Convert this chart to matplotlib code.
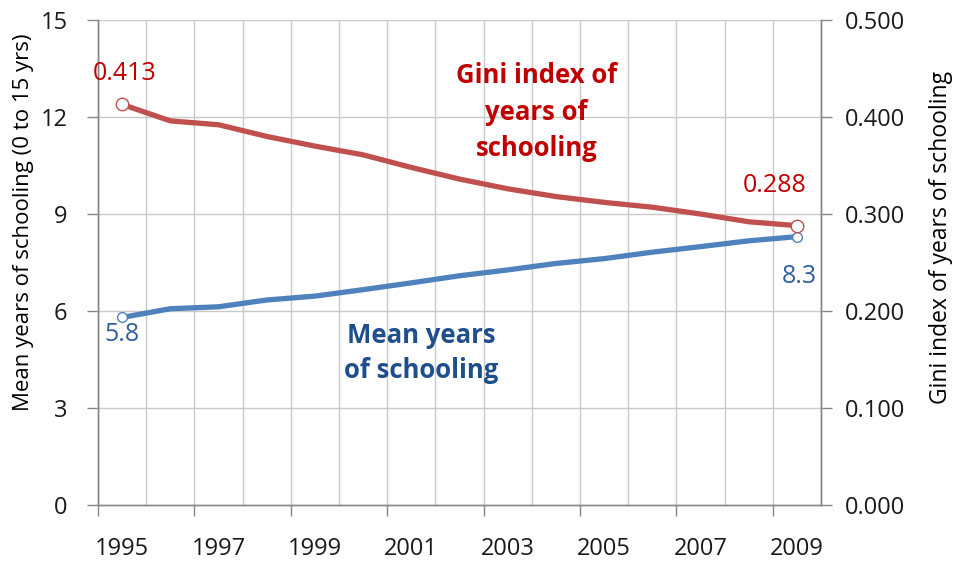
import matplotlib.pyplot as plt
import matplotlib as mpl
import numpy as np

mpl.rcParams["font.family"] = ["Open Sans", "DejaVu Sans"]

# --- data ---
years = list(range(1995, 2010))
mean_years = [5.8, 6.07, 6.13, 6.34, 6.46, 6.66, 6.87, 7.09, 7.27, 7.47,
              7.62, 7.82, 7.99, 8.17, 8.3]
gini = [0.413, 0.396, 0.392, 0.380, 0.370, 0.361, 0.348, 0.336, 0.326,
        0.318, 0.312, 0.307, 0.300, 0.292, 0.288]
left_ticks = [0, 3, 6, 9, 12, 15]
right_ticks = [0.0, 0.1, 0.2, 0.3, 0.4, 0.5]

red = "#C0504D"
blue = "#4F81BD"
red_txt = "#C00000"
blue_txt = "#2F5E9E"
blue_title = "#1F4E8C"
grid_c = "#C9C9C9"
spine_c = "#878787"
txt_c = "#1A1A1A"

fig = plt.figure(figsize=(9.55, 5.61), dpi=100)
ax = fig.add_axes([98 / 955, 56 / 561, 723 / 955, 485 / 561])
ax2 = ax.twinx()

x = np.arange(len(years))
n = len(years)

ax.set_xlim(-0.5, n - 0.5)
ax.set_ylim(0, 15)
ax2.set_ylim(0, 0.5)

# grid: horizontal at left ticks, vertical at every category boundary
for yv in left_ticks[1:]:
    ax.axhline(yv, color=grid_c, lw=1.0, zorder=0)
for b in np.arange(n + 1) - 0.5:
    ax.axvline(b, color=grid_c, lw=1.0, zorder=0)

# lines
ax.plot(x, mean_years, color=blue, lw=3.8, solid_capstyle="round",
        solid_joinstyle="round", zorder=3)
ax2.plot(x, gini, color=red, lw=3.8, solid_capstyle="round",
         solid_joinstyle="round", zorder=3)
ax.plot([x[0], x[-1]], [mean_years[0], mean_years[-1]], "o", ms=7,
        mfc="white", mec=blue, mew=1.0, zorder=4)
ax2.plot([x[0], x[-1]], [gini[0], gini[-1]], "o", ms=9,
         mfc="white", mec=red, mew=1.0, zorder=4)

# end labels
ax2.annotate(f"{gini[0]:.3f}", (x[0], gini[0]), xytext=(1.8, 22),
             textcoords="offset points", ha="center", va="center",
             fontsize=18, color=red_txt)
ax2.annotate(f"{gini[-1]:.3f}", (x[-1], gini[-1]), xytext=(-16, 29),
             textcoords="offset points", ha="center", va="center",
             fontsize=18, color=red_txt)
ax.annotate(f"{mean_years[0]:.1f}", (x[0], mean_years[0]), xytext=(0, -12),
            textcoords="offset points", ha="center", va="center",
            fontsize=18, color=blue_txt)
ax.annotate(f"{mean_years[-1]:.1f}", (x[-1], mean_years[-1]), xytext=(1.5, -29),
            textcoords="offset points", ha="center", va="center",
            fontsize=18, color=blue_txt)

# series titles
ax.text(8.6, 12.15, "Gini index of\nyears of\nschooling", ha="center",
        va="center", fontsize=18.5, fontweight="bold", color=red_txt,
        linespacing=1.45)
ax.text(6.2, 4.7, "Mean years\nof schooling", ha="center", va="center",
        fontsize=18.5, fontweight="bold", color=blue_title, linespacing=1.4)

# x axis: labels at category centres, tick marks at every 2nd boundary
ax.set_xticks(x[::2])
ax.set_xticklabels([str(y) for y in years[::2]])
ax.set_xticks(np.arange(-0.5, n - 0.5, 2), minor=True)
ax.tick_params(axis="x", which="major", length=0, pad=23, labelsize=17,
               colors=txt_c)
ax.tick_params(axis="x", which="minor", length=8, width=1, color=spine_c)

ax.set_yticks(left_ticks)
ax.tick_params(axis="y", length=8, width=1, color=spine_c, pad=14,
               labelsize=17, labelcolor=txt_c)
ax2.set_yticks(right_ticks)
ax2.set_yticklabels([f"{v:.3f}" for v in right_ticks])
ax2.tick_params(axis="y", length=8, width=1, color=spine_c, pad=9,
                labelsize=17, labelcolor=txt_c)

for a in (ax, ax2):
    a.spines["top"].set_visible(False)
    for s in ("left", "right", "bottom"):
        a.spines[s].set_color(spine_c)
        a.spines[s].set_linewidth(1.0)

fig.text(24 / 955, 1 - 222 / 561, "Mean years of schooling (0 to 15 yrs)",
         rotation=90, ha="center", va="center", fontsize=16, color="black")
fig.text(941 / 955, 1 - 237 / 561, "Gini index of years of schooling",
         rotation=90, ha="center", va="center", fontsize=16.5, color="black")

fig.savefig("out.png", dpi=100, facecolor="white")
